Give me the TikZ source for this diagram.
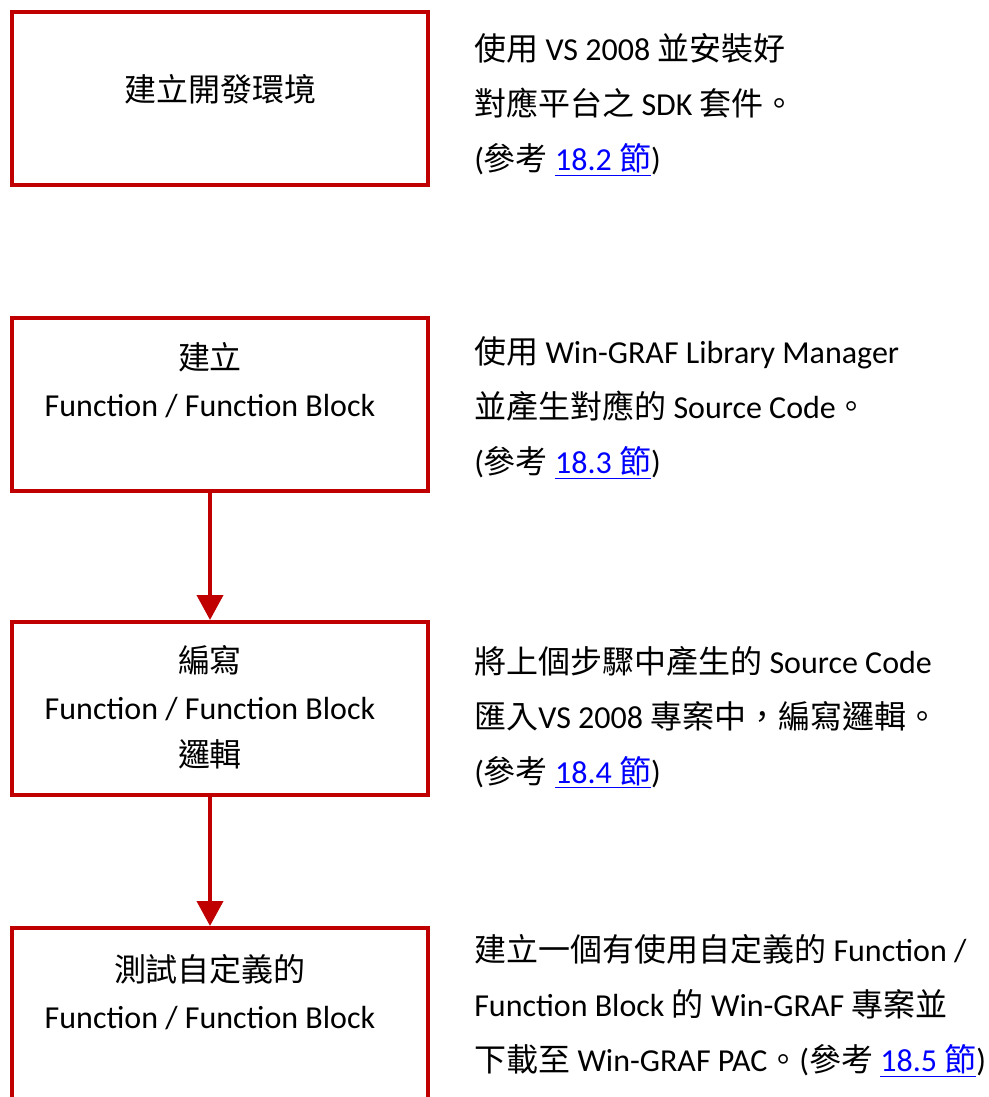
\documentclass[tikz,border=0pt]{standalone}
\usepackage{fontspec}
\setmainfont{Carlito}
\newfontfamily\cjk{Noto Sans CJK TC}
\usetikzlibrary{arrows.meta, positioning, calc}
\definecolor{boxred}{RGB}{192, 0, 0}
\definecolor{linkblue}{RGB}{0, 0, 255}
\newcommand{\zh}[1]{{\cjk #1}}
\newcommand{\sect}[1]{\textcolor{linkblue}{\underline{#1}}}

\begin{document}
\begin{tikzpicture}[x=0.75pt, y=-0.75pt,
  stepbox/.style={draw=boxred, line width=3pt, minimum width=312pt, minimum height=129.75pt, inner sep=0pt},
  steptext/.style={align=center, inner sep=0pt, font=\fontsize{24}{35.25}\selectfont},
  desc/.style={align=left, anchor=west, inner sep=0pt, font=\fontsize{24}{41.25}\selectfont},
  flow/.style={draw=boxred, line width=3pt, -{Triangle[width=19.5pt, length=18.75pt]}}
]
  \useasboundingbox (0,0) rectangle (989,1097);

  % Steps
  \node[stepbox] (b1) at (220, 98.5) {};
  \node[stepbox] (b2) at (220, 404.5) {};
  \node[stepbox] (b3) at (220, 708.5) {};
  \node[stepbox] (b4) at (220, 1014.5) {};

  \node[steptext] (t1) at (220, 89) {\zh{建立開發環境}};
  \node[steptext] (t2) at (210, 380.5) {\zh{建立}\\ Function / Function Block};
  \node[steptext] (t3) at (210, 707) {\zh{編寫}\\ Function / Function Block\\ \zh{邏輯}};
  \node[steptext] (t4) at (210, 992) {\zh{測試自定義的}\\ Function / Function Block};

  % Notes
  \node[desc] (d1) at (474, 105) {\zh{使用} VS 2008 \zh{並安裝好}\\
    \zh{對應平台之} SDK \zh{套件。}\\
    (\zh{參考} \sect{18.2 \zh{節}})};
  \node[desc] (d2) at (474, 408) {\zh{使用} Win-GRAF Library Manager\\
    \zh{並產生對應的} Source Code\zh{。}\\
    (\zh{參考} \sect{18.3 \zh{節}})};
  \node[desc] (d3) at (474, 717) {\zh{將上個步驟中產生的} Source Code\\
    \zh{匯入}VS 2008 \zh{專案中，編寫邏輯。}\\
    (\zh{參考} \sect{18.4 \zh{節}})};
  \node[desc] (d4) at (474, 1006) {\zh{建立一個有使用自定義的} Function /\\
    Function Block \zh{的} Win-GRAF \zh{專案並}\\
    \zh{下載至} Win-GRAF PAC\zh{。}(\zh{參考} \sect{18.5 \zh{節}})};

  % Arrows
  \draw[flow] ([xshift=-7.5pt]b2.south) -- ([xshift=-7.5pt]b3.north);
  \draw[flow] ([xshift=-7.5pt]b3.south) -- ([xshift=-7.5pt]b4.north);
\end{tikzpicture}
\end{document}
